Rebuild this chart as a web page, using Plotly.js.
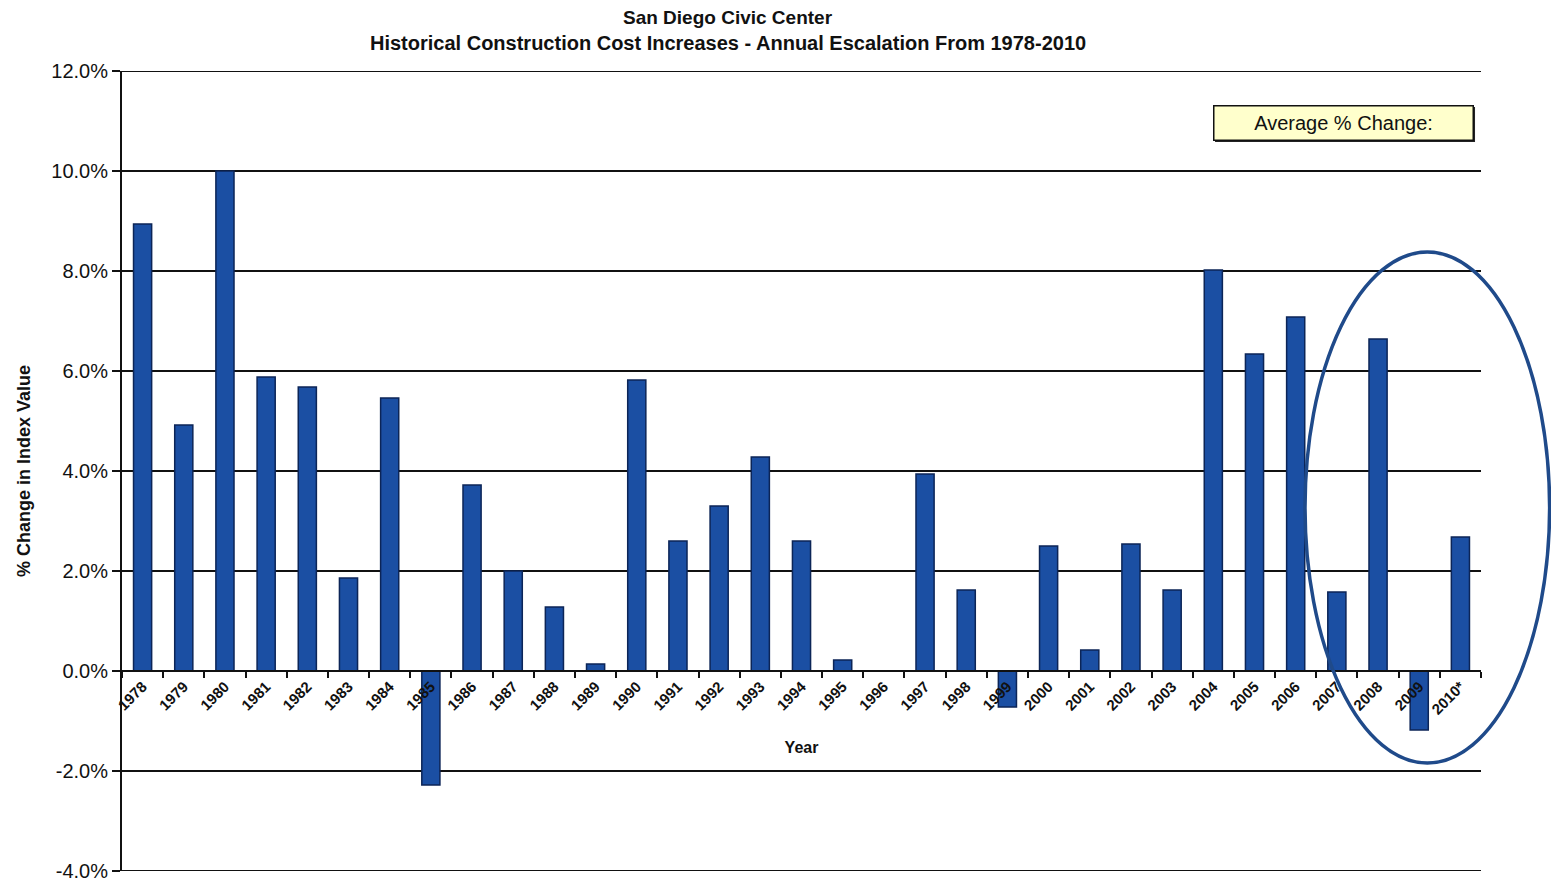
<!DOCTYPE html>
<html>
<head>
<meta charset="utf-8">
<script src="https://cdn.plot.ly/plotly-3.0.1.min.js"></script>
<style>
  html, body { margin: 0; padding: 0; background: #ffffff; }
  #chart { width: 1551px; height: 881px; }
</style>
</head>
<body>
<div id="chart"></div>
<script>
// Annual escalation of construction cost index, San Diego Civic Center (percent)
const years = ["1978", "1979", "1980", "1981", "1982", "1983", "1984", "1985", "1986", "1987",
               "1988", "1989", "1990", "1991", "1992", "1993", "1994", "1995", "1996", "1997",
               "1998", "1999", "2000", "2001", "2002", "2003", "2004", "2005", "2006", "2007",
               "2008", "2009", "2010*"];
const pctChange = [8.94, 4.92, 10.0, 5.88, 5.68, 1.86, 5.46, -2.28, 3.72, 2.0,
                   1.28, 0.14, 5.82, 2.6, 3.3, 4.28, 2.6, 0.22, 0.0, 3.94,
                   1.62, -0.72, 2.5, 0.42, 2.54, 1.62, 8.02, 6.34, 7.08, 1.58,
                   6.64, -1.18, 2.68];
const yTicks = [-4, -2, 0, 2, 4, 6, 8, 10, 12];
const titleLines = ["San Diego Civic Center",
                    "Historical Construction Cost Increases - Annual Escalation From 1978-2010"];

const FONT = "Liberation Sans, Arial, sans-serif";

const trace = {
  type: "bar",
  x: years,
  y: pctChange,
  marker: { color: "#1b4fa3", line: { color: "#0c2557", width: 1.5 } },
  hoverinfo: "x+y"
};

const yMin = -4, yMax = 12;

// grid lines on the top and bottom edges of the value range
const edgeLines = [yMin, yMax].map(v => ({
  type: "line", xref: "paper", yref: "y", x0: 0, x1: 1, y0: v, y1: v,
  line: { color: "#111111", width: 2 }, layer: "above"
}));

const layout = {
  width: 1551,
  height: 881,
  margin: { l: 122, r: 70, t: 71, b: 10 },
  paper_bgcolor: "#ffffff",
  plot_bgcolor: "#ffffff",
  showlegend: false,
  bargap: 0.56,
  xaxis: {
    type: "category",
    anchor: "free",
    position: (0 - yMin) / (yMax - yMin),
    showline: true, linecolor: "#111111", linewidth: 2,
    ticks: "outside", tickson: "boundaries", ticklen: 6, tickcolor: "#111111", tickwidth: 2,
    tickangle: -45,
    tickfont: { family: FONT, size: 15, color: "#111111", weight: "bold" },
    showgrid: false,
    title: { text: "<b>Year</b>", font: { family: FONT, size: 16, color: "#111111" }, standoff: 24 },
    fixedrange: true
  },
  yaxis: {
    range: [yMin, yMax],
    tickvals: yTicks,
    ticktext: yTicks.map(v => v.toFixed(1) + "%"),
    tickfont: { family: FONT, size: 20, color: "#111111" },
    ticklabeloverflow: "allow",
    showgrid: true, gridcolor: "#111111", gridwidth: 1.5,
    zeroline: false,
    showline: true, linecolor: "#111111", linewidth: 2,
    ticks: "outside", ticklen: 8, tickcolor: "#111111", tickwidth: 1.5,
    title: { text: "<b>% Change in Index Value</b>", font: { family: FONT, size: 18, color: "#111111" }, standoff: 16 },
    fixedrange: true
  },
  shapes: edgeLines.concat([
    // drop shadow behind the average box
    { type: "rect", xref: "paper", yref: "paper", x0: 0.8043, x1: 0.9956, y0: 0.9113, y1: 0.955,
      fillcolor: "#222222", line: { width: 0 }, layer: "above" },
    // highlight ring around the most recent years
    { type: "circle", xref: "paper", yref: "y", x0: 0.8705, x1: 1.0505, y0: -1.84, y1: 8.38,
      line: { color: "#1f4a8a", width: 3.5 }, fillcolor: "rgba(0,0,0,0)" }
  ]),
  annotations: [
    {
      xref: "paper", yref: "paper", x: 0.446, y: 1.0675, xanchor: "center", yanchor: "middle",
      text: "<b>" + titleLines[0] + "</b>", showarrow: false,
      font: { family: FONT, size: 19, color: "#111111" }
    },
    {
      xref: "paper", yref: "paper", x: 0.446, y: 1.035, xanchor: "center", yanchor: "middle",
      text: "<b>" + titleLines[1] + "</b>", showarrow: false,
      font: { family: FONT, size: 20, color: "#111111" }
    },
    {
      xref: "paper", yref: "paper", x: 0.8985, y: 0.9356, xanchor: "center", yanchor: "middle",
      text: "Average % Change:",
      showarrow: false,
      font: { family: FONT, size: 20, color: "#111111" },
      bgcolor: "#ffffcc", bordercolor: "#111111", borderwidth: 1.5,
      width: 256, height: 31, align: "center", valign: "middle"
    }
  ]
};

Plotly.newPlot("chart", [trace], layout, { displayModeBar: false, staticPlot: true });
</script>
</body>
</html>
